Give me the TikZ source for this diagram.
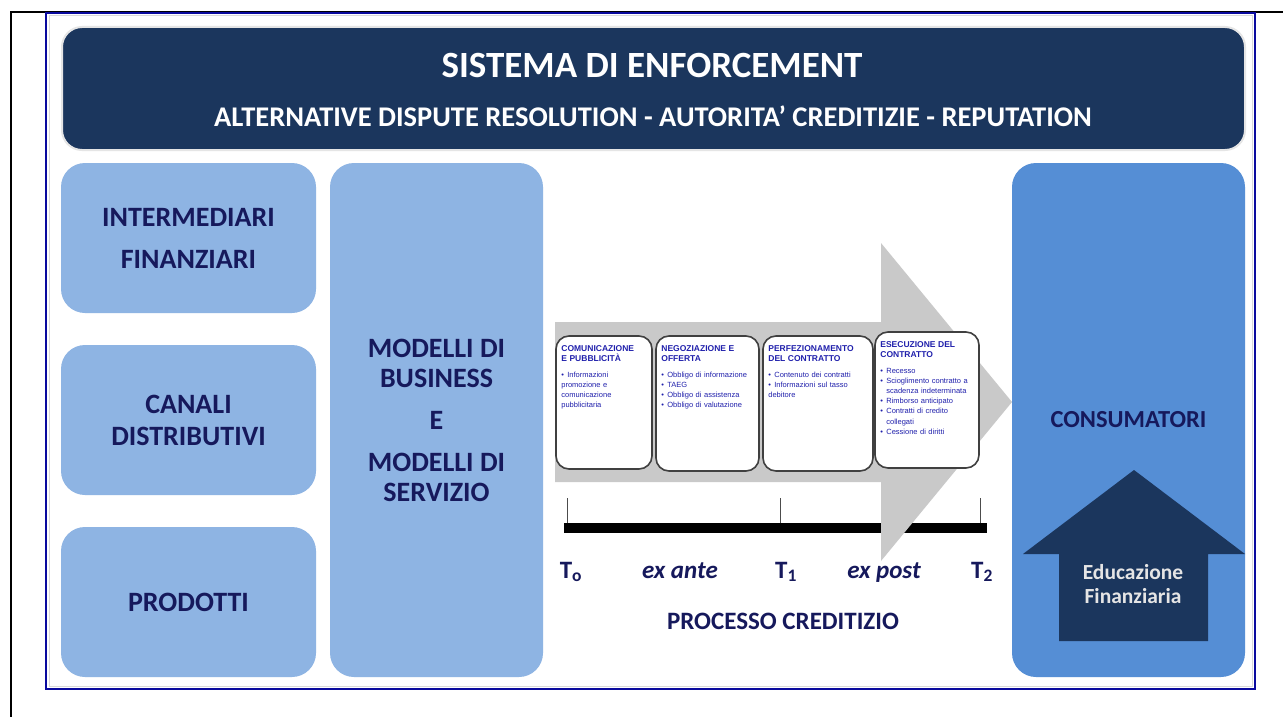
\documentclass[tikz,border=0pt]{standalone}
\usepackage{fontspec}
\setmainfont{Carlito}
\newfontfamily\arialfont{Liberation Sans}
\usetikzlibrary{positioning}
\definecolor{Navy}{HTML}{1B365D}
\definecolor{PaleBlue}{HTML}{8EB4E3}
\definecolor{MidBlue}{HTML}{558ED5}
\definecolor{FlowGray}{HTML}{C9C9C9}
\definecolor{InkBlue}{HTML}{16195C}
\definecolor{PhaseBlue}{HTML}{2020AC}
\definecolor{FrameBlue}{HTML}{0A0A9E}
\tikzset{
    sidebox/.style={fill=PaleBlue, rounded corners=24pt, minimum width=255pt, minimum height=150pt, inner sep=0pt, align=center, text=InkBlue, font=\fontsize{28}{42}\selectfont\bfseries},
    phasebox/.style={draw=black!75, line width=1.6pt, fill=white, rounded corners=13pt, inner sep=0pt},
    phasetext/.style={inner sep=0pt, text width=#1, align=left, text=PhaseBlue, font=\arialfont\fontsize{7.5}{10.2}\selectfont},
    phasetext/.default=90pt,
    timelabel/.style={anchor=base, text=InkBlue, font=\fontsize{25}{27}\selectfont\bfseries}
}
\newcommand{\phasehead}[1]{{\fontsize{8.5}{10.5}\selectfont\bfseries #1\par}\vspace{5pt}}
\newcommand{\phaseitem}[1]{\par\hangindent=6pt\hangafter=1\noindent\makebox[6pt][l]{\textbullet}#1}

\begin{document}
\begin{tikzpicture}[x=1pt, y=-1pt]
    \useasboundingbox (0,0) rectangle (1283,717);
    % cell rules and frame
    \draw[line width=2pt] (11,717) -- (11,12) -- (1283,12);
    \draw[FrameBlue, line width=2.5pt, fill=white] (46,13) rectangle (1255,689);
    \draw[black!15, line width=1pt] (49,16) rectangle (1252,686);
    % header
    \node[fill=Navy, draw=black!10, line width=2pt, rounded corners=20pt, minimum width=1183pt, minimum height=123pt, inner sep=0pt] (banner) at (653.5,88.5) {};
    \node[text=white, font=\fontsize{37}{40}\selectfont\bfseries] (title) at (652,65) {SISTEMA DI ENFORCEMENT};
    \node[text=white, font=\fontsize{28.5}{30}\selectfont\bfseries] (subtitle) at (653,116) {ALTERNATIVE DISPUTE RESOLUTION - AUTORITA’ CREDITIZIE - REPUTATION};
    % left column
    \node[sidebox] (interm) at (188.5,238) {INTERMEDIARI\\FINANZIARI};
    \node[sidebox, font=\fontsize{28}{32}\selectfont\bfseries] (canali) at (188.5,420) {CANALI\\DISTRIBUTIVI};
    \node[sidebox] (prodotti) at (188.5,602) {PRODOTTI};
    \node[sidebox, minimum width=213pt, minimum height=514pt, font=\fontsize{28}{30}\selectfont\bfseries] (modelli) at (436.5,420) {MODELLI DI\\BUSINESS\\[12pt]E\\[12pt]MODELLI DI\\SERVIZIO};
    % consumers
    \node[sidebox, fill=MidBlue, minimum width=233pt, minimum height=514pt, font=\fontsize{24.5}{28}\selectfont\bfseries] (consum) at (1128.5,420) {CONSUMATORI};
    \fill[Navy] (1134,470) -- (1245,554) -- (1208,554) -- (1208,641) -- (1059,641) -- (1059,554) -- (1023,554) -- cycle;
    \node[text=white!90!black, align=center, font=\fontsize{21.5}{24}\selectfont\bfseries] (educ) at (1133,584) {Educazione\\Finanziaria};
    % timeline
    \coordinate (t0) at (567,523);
    \coordinate (t1) at (780,523);
    \coordinate (t2) at (980,523);
    \fill (564,523) rectangle (987,533);
    \foreach \t in {t0,t1,t2}
        \draw[black!70, line width=0.8pt] (\t) -- ++(0,-25);
    % credit process arrow
    \fill[FlowGray] (555,322) -- (881,322) -- (881,243) -- (1012,402) -- (881,561) -- (881,482) -- (555,482) -- cycle;
    \node[phasebox, minimum width=96pt, minimum height=133pt] (comunic) at (604,402.5) {};
    \node[phasebox, minimum width=103pt, minimum height=135pt] (negoz) at (707.5,403.5) {};
    \node[phasebox, minimum width=110pt, minimum height=135pt] (perfez) at (818,403.5) {};
    \node[phasebox, minimum width=104pt, minimum height=136pt] (esecuz) at (927,400) {};
    \node[phasetext=88pt, below right=10pt and 6pt of comunic.north west] (comunictxt) {\phasehead{COMUNICAZIONE\\E PUBBLICITÀ}\phaseitem{Informazioni\newline promozione e\newline comunicazione\newline pubblicitaria}};
    \node[phasetext=95pt, below right=10pt and 6pt of negoz.north west] (negoztxt) {\phasehead{NEGOZIAZIONE E\\OFFERTA}\phaseitem{Obbligo di informazione}\phaseitem{TAEG}\phaseitem{Obbligo di assistenza}\phaseitem{Obbligo di valutazione}};
    \node[phasetext=102pt, below right=10pt and 6pt of perfez.north west] (perfeztxt) {\phasehead{PERFEZIONAMENTO\\DEL CONTRATTO}\phaseitem{Contenuto dei contratti}\phaseitem{Informazioni sul tasso\newline debitore}};
    \node[phasetext=98pt, below right=10pt and 6pt of esecuz.north west] (esecuztxt) {\phasehead{ESECUZIONE DEL\\CONTRATTO}\phaseitem{Recesso}\phaseitem{Scioglimento contratto a\newline scadenza indeterminata}\phaseitem{Rimborso anticipato}\phaseitem{Contratti di credito\newline collegati}\phaseitem{Cessione di diritti}};
    % time labels
    \node[timelabel] (lt0) at (571,578) {T\textsubscript{o}};
    \node[timelabel, font=\fontsize{25}{27}\selectfont\bfseries\itshape] (exante) at (680,578) {ex ante};
    \node[timelabel] (lt1) at (786,578) {T\textsubscript{1}};
    \node[timelabel, font=\fontsize{25}{27}\selectfont\bfseries\itshape] (expost) at (884,578) {ex post};
    \node[timelabel] (lt2) at (982,578) {T\textsubscript{2}};
    \node[timelabel] (processo) at (783,629) {PROCESSO CREDITIZIO};
\end{tikzpicture}
\end{document}
